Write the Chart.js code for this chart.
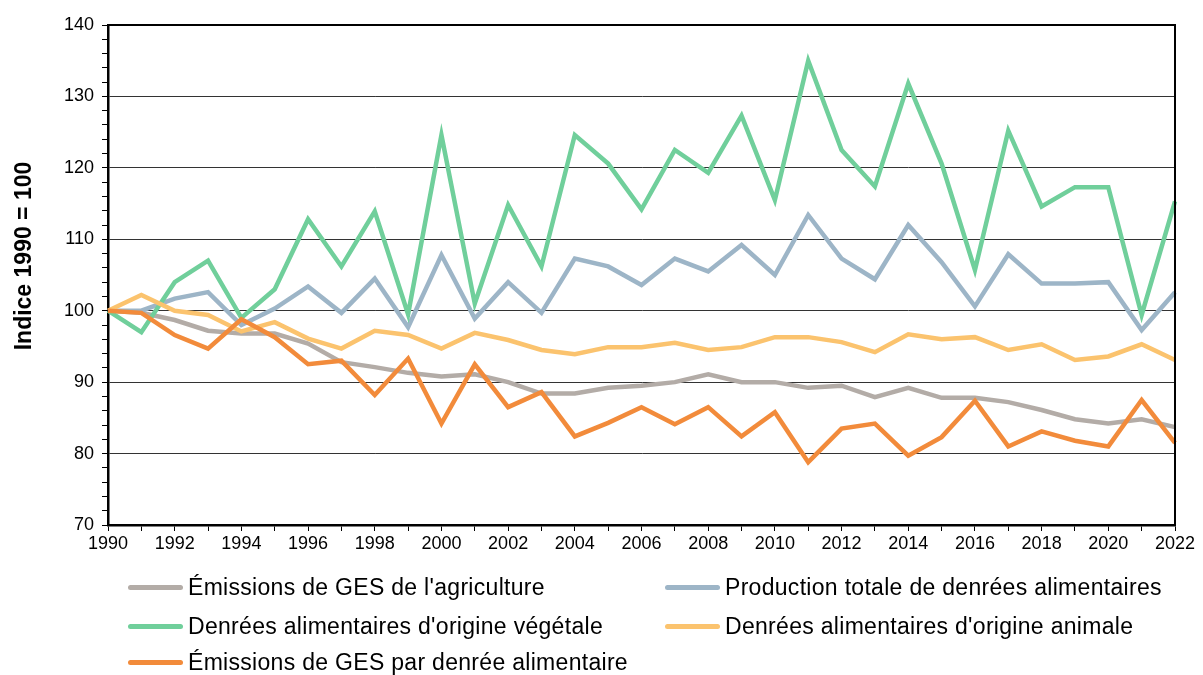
<!DOCTYPE html>
<html lang="fr">
<head>
<meta charset="utf-8">
<script src="https://cdn.jsdelivr.net/npm/chart.js@4.4.1/dist/chart.umd.min.js"></script>
<style>
  html, body { margin: 0; padding: 0; background: #fff; }
  #wrap { position: relative; width: 1203px; height: 675px; font-family: "Liberation Sans", Arial, sans-serif; }
  #chart { position: absolute; left: 0; top: 0; }
  #legend { position: absolute; left: 0; top: 0; width: 1203px; height: 675px; pointer-events: none; }
  .item { position: absolute; display: flex; align-items: center; font-size: 23px; color: #000; white-space: nowrap; letter-spacing: 0.3px; }
  .item i { display: inline-block; width: 55px; height: 5px; border-radius: 3px; margin-right: 5px; }
</style>
</head>
<body>
<div id="wrap">
  <canvas id="chart" width="1203" height="675"></canvas>
  <div id="legend"></div>
</div>
<script>
// ----------- Données -----------
const years = [];
for (let y = 1990; y <= 2022; y++) years.push(String(y));

const seriesNames = [
    "Émissions de GES de l'agriculture",
    "Production totale de denrées alimentaires",
    "Denrées alimentaires d'origine végétale",
    "Denrées alimentaires d'origine animale",
    "Émissions de GES par denrée alimentaire"
];
const seriesColors = ['#b3aca7', '#9db5c7', '#70cf9b', '#fbc36e', '#f28b3b'];

const emissionsAgri = [100, 99.7, 98.7, 97.2, 96.8, 96.8, 95.4, 92.8, 92.1, 91.3, 90.8, 91.1, 90.0, 88.4, 88.4, 89.2, 89.5,
    90.0, 91.1, 90.0, 90.0, 89.2, 89.5, 87.9, 89.2, 87.8, 87.8, 87.2, 86.1, 84.8, 84.2, 84.8, 83.7];
const productionTotale = [100, 100, 101.7, 102.6, 98.0, 100.3, 103.4, 99.7, 104.5, 97.7, 107.8, 98.9, 104.0, 99.7, 107.3, 106.2, 103.6,
    107.3, 105.5, 109.2, 105.0, 113.4, 107.3, 104.4, 112.0, 106.8, 100.6, 107.9, 103.8, 103.8, 104.0, 97.3, 102.6];
const origineVegetale = [100, 97.0, 104.0, 107.0, 99.0, 103.0, 112.8, 106.2, 113.9, 99.5, 124.6, 101.0, 114.8, 106.2, 124.6, 120.6, 114.2,
    122.5, 119.3, 127.3, 115.5, 135.0, 122.5, 117.4, 131.8, 120.6, 105.7, 125.2, 114.6, 117.3, 117.3, 99.4, 115.3];
const origineAnimale = [100, 102.2, 100.0, 99.4, 97.1, 98.4, 96.1, 94.7, 97.2, 96.6, 94.7, 96.9, 95.9, 94.5, 93.9, 94.9, 94.9,
    95.5, 94.5, 94.9, 96.3, 96.3, 95.6, 94.2, 96.7, 96.0, 96.3, 94.5, 95.3, 93.1, 93.6, 95.3, 93.1];
const emissionsParDenree = [100, 99.7, 96.6, 94.7, 98.8, 96.3, 92.5, 93.0, 88.2, 93.3, 84.2, 92.5, 86.5, 88.6, 82.4, 84.3, 86.5,
    84.1, 86.5, 82.4, 85.8, 78.8, 83.5, 84.2, 79.7, 82.3, 87.4, 81.0, 83.1, 81.8, 81.0, 87.5, 81.5];

const allSeries = [emissionsAgri, productionTotale, origineVegetale, origineAnimale, emissionsParDenree];
const yTitle = 'Indice 1990 = 100';

// ----------- Plugins -----------
const framePlugin = {
    id: 'frame',
    afterDraw(chart) {
        const { ctx, chartArea: a } = chart;
        ctx.save();
        ctx.strokeStyle = '#000';
        ctx.lineWidth = 2;
        ctx.beginPath();
        ctx.moveTo(a.left, a.top);
        ctx.lineTo(a.right, a.top);
        ctx.lineTo(a.right, a.bottom);
        ctx.stroke();
        ctx.restore();
    }
};
const yTitlePlugin = {
    id: 'ytitle',
    afterDraw(chart) {
        const ctx = chart.ctx;
        ctx.save();
        ctx.translate(25, 256);
        ctx.rotate(-Math.PI / 2);
        ctx.font = 'bold 23px "Liberation Sans", Arial, sans-serif';
        ctx.fillStyle = '#000';
        ctx.textAlign = 'center';
        ctx.textBaseline = 'middle';
        ctx.fillText(yTitle, 0, 0);
        ctx.restore();
    }
};

// ----------- Graphique -----------
const tickFont = { family: '"Liberation Sans", Arial, sans-serif', size: 18 };

new Chart(document.getElementById('chart'), {
    type: 'line',
    data: {
        labels: years,
        datasets: allSeries.map((d, i) => ({
            label: seriesNames[i],
            data: d,
            borderColor: seriesColors[i],
            backgroundColor: seriesColors[i],
            borderWidth: 4.5,
            pointRadius: 0,
            tension: 0,
            order: 5 - i
        }))
    },
    options: {
        responsive: false,
        animation: false,
        layout: { padding: { top: 25, right: 28, left: 0, bottom: 0 } },
        plugins: { legend: { display: false }, tooltip: { enabled: false } },
        scales: {
            x: {
                offset: false,
                grid: { drawOnChartArea: false, tickLength: 6, tickColor: '#000', tickWidth: 1 },
                border: { color: '#000', width: 2.5 },
                ticks: {
                    autoSkip: false, maxRotation: 0, color: '#000', font: tickFont, padding: 2,
                    callback: (v, i) => (i % 2 === 0 ? years[i] : '')
                },
                afterFit: s => { s.height = 150; }
            },
            y: {
                min: 70, max: 140,
                grid: {
                    color: c => (c.tick && c.tick.value % 10 === 0 ? '#333' : 'rgba(0,0,0,0)'),
                    tickColor: '#000', tickLength: 6, lineWidth: 1
                },
                border: { color: '#000', width: 2.5 },
                ticks: {
                    autoSkip: false, stepSize: 2, color: '#000', font: tickFont, padding: 8,
                    callback: v => (v % 10 === 0 ? v : '')
                },
                afterFit: s => { s.width = 108; }
            }
        }
    },
    plugins: [framePlugin, yTitlePlugin]
});

// ----------- Légende -----------
const legendPos = [[128, 588], [665, 588], [128, 627], [665, 627], [128, 663]];
const legend = document.getElementById('legend');
seriesNames.forEach((name, i) => {
    const el = document.createElement('div');
    el.className = 'item';
    el.style.left = legendPos[i][0] + 'px';
    el.style.top = (legendPos[i][1] - 14) + 'px';
    el.innerHTML = '<i style="background:' + seriesColors[i] + '"></i>';
    el.appendChild(document.createTextNode(name));
    legend.appendChild(el);
});
</script>
</body>
</html>
